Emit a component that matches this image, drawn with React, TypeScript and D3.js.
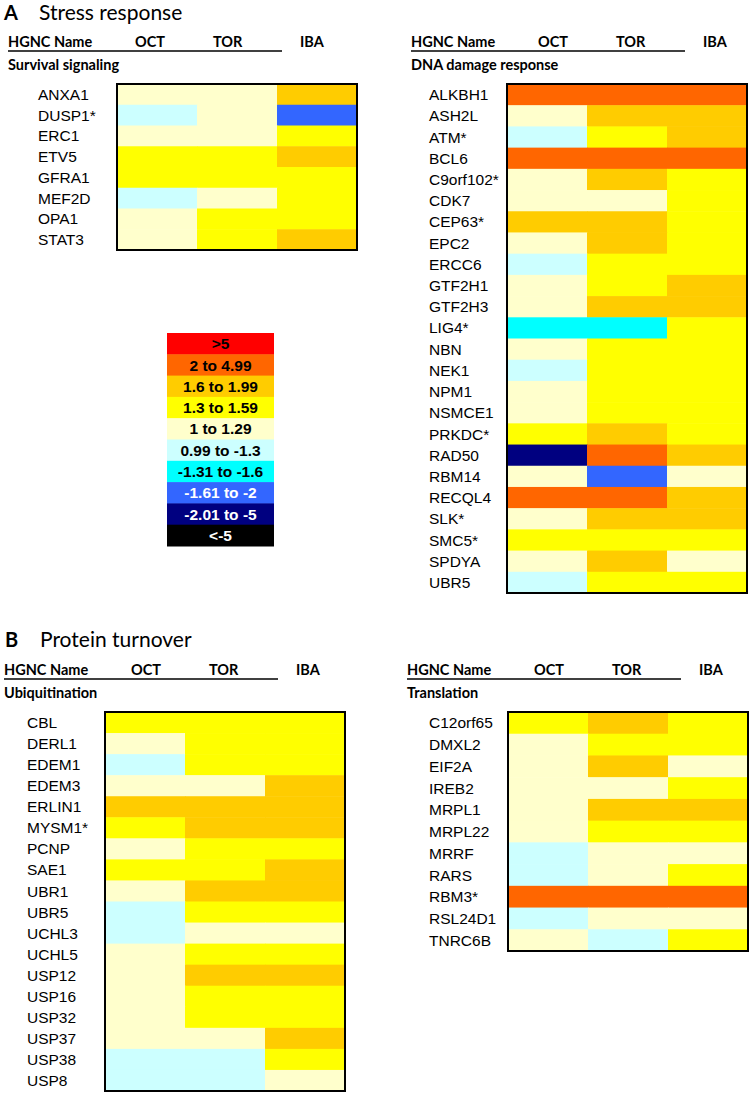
import React from "react";
import * as d3 from "d3";

// ---- data ----
const conditions = ["OCT", "TOR", "IBA"];

// fold-change category thresholds and legend
const legendLabels = [">5", "2 to 4.99", "1.6 to 1.99", "1.3 to 1.59", "1 to 1.29", "0.99 to -1.3", "-1.31 to -1.6", "-1.61 to -2", "-2.01 to -5", "<-5"];
const legendColors = ["#FF0000", "#FF6600", "#FFCC00", "#FFFF00", "#FFFFCC", "#CCFFFF", "#00FFFF", "#3366FF", "#000080", "#000000"];
const legendTextColors = ["#000", "#000", "#000", "#000", "#000", "#000", "#000", "#fff", "#fff", "#fff"];
const thresholds = [-5, -2, -1.6, -1.3, 1, 1.3, 1.6, 2, 5];

// Survival signaling
const survivalGenes = ["ANXA1", "DUSP1*", "ERC1", "ETV5", "GFRA1", "MEF2D", "OPA1", "STAT3"];
const survivalValues = [
  [1.15, 1.15, 1.8],
  [0.5, 1.15, -1.8],
  [1.15, 1.15, 1.45],
  [1.45, 1.45, 1.8],
  [1.45, 1.45, 1.45],
  [0.5, 1.15, 1.45],
  [1.15, 1.45, 1.45],
  [1.15, 1.45, 1.8],
];

// DNA damage response
const dnaGenes = ["ALKBH1", "ASH2L", "ATM*", "BCL6", "C9orf102*", "CDK7", "CEP63*", "EPC2", "ERCC6", "GTF2H1", "GTF2H3", "LIG4*", "NBN", "NEK1", "NPM1", "NSMCE1", "PRKDC*", "RAD50", "RBM14", "RECQL4", "SLK*", "SMC5*", "SPDYA", "UBR5"];
const dnaValues = [
  [3, 3, 3],
  [1.15, 1.8, 1.8],
  [0.5, 1.45, 1.8],
  [3, 3, 3],
  [1.15, 1.8, 1.45],
  [1.15, 1.15, 1.45],
  [1.8, 1.8, 1.45],
  [1.15, 1.8, 1.45],
  [0.5, 1.45, 1.45],
  [1.15, 1.45, 1.8],
  [1.15, 1.8, 1.8],
  [-1.45, -1.45, 1.45],
  [1.15, 1.45, 1.45],
  [0.5, 1.45, 1.45],
  [1.15, 1.45, 1.45],
  [1.15, 1.45, 1.45],
  [1.45, 1.8, 1.45],
  [-3, 3, 1.8],
  [1.15, -1.8, 1.15],
  [3, 3, 1.8],
  [1.15, 1.8, 1.8],
  [1.45, 1.45, 1.45],
  [1.15, 1.8, 1.15],
  [0.5, 1.45, 1.45],
];

// Ubiquitination
const ubiGenes = ["CBL", "DERL1", "EDEM1", "EDEM3", "ERLIN1", "MYSM1*", "PCNP", "SAE1", "UBR1", "UBR5", "UCHL3", "UCHL5", "USP12", "USP16", "USP32", "USP37", "USP38", "USP8"];
const ubiValues = [
  [1.45, 1.45, 1.45],
  [1.15, 1.45, 1.45],
  [0.5, 1.45, 1.45],
  [1.15, 1.15, 1.8],
  [1.8, 1.8, 1.8],
  [1.45, 1.8, 1.8],
  [1.15, 1.45, 1.45],
  [1.45, 1.45, 1.8],
  [1.15, 1.8, 1.8],
  [0.5, 1.45, 1.45],
  [0.5, 1.15, 1.15],
  [1.15, 1.45, 1.45],
  [1.15, 1.8, 1.8],
  [1.15, 1.45, 1.45],
  [1.15, 1.45, 1.45],
  [1.15, 1.15, 1.8],
  [0.5, 0.5, 1.45],
  [0.5, 0.5, 1.15],
];

// Translation
const transGenes = ["C12orf65", "DMXL2", "EIF2A", "IREB2", "MRPL1", "MRPL22", "MRRF", "RARS", "RBM3*", "RSL24D1", "TNRC6B"];
const transValues = [
  [1.45, 1.8, 1.45],
  [1.15, 1.45, 1.45],
  [1.15, 1.8, 1.15],
  [1.15, 1.15, 1.45],
  [1.15, 1.8, 1.8],
  [1.15, 1.45, 1.45],
  [0.5, 1.15, 1.15],
  [0.5, 1.15, 1.45],
  [3, 3, 3],
  [0.5, 1.15, 1.15],
  [1.15, 0.5, 1.45],
];

// ---- drawing ----
const color = d3.scaleThreshold<number, string>().domain(thresholds).range([...legendColors].reverse());

const HEAD_FONT = "Lato, 'Open Sans', sans-serif";
const LABEL_FONT = "'Liberation Sans', Arial, sans-serif";

type PanelProps = {
  headX: number;
  labelX: number;
  boxLeft: number;
  boxRight: number;
  boxTop: number;
  boxBottom: number;
  subtitle: string;
  genes: string[];
  values: number[][];
};

function Panel({ headX, labelX, boxLeft, boxRight, boxTop, boxBottom, subtitle, genes, values }: PanelProps) {
  const x = d3.scaleBand<string>().domain(conditions).range([boxLeft, boxRight]);
  const y = d3.scaleBand<string>().domain(genes).range([boxTop, boxBottom]);
  const headY = boxTop - 37;
  const headOffsets = [127, 205, 292];
  return (
    <g>
      <text x={headX} y={headY} fontFamily={HEAD_FONT} fontWeight="bold" fontSize={14.5} fill="#000">HGNC Name</text>
      {conditions.map((c, i) => (
        <text key={c} x={headX + headOffsets[i]} y={headY} fontFamily={HEAD_FONT} fontWeight="bold" fontSize={14.5} fill="#000">{c}</text>
      ))}
      <line x1={headX} x2={headX + 274} y1={headY + 4} y2={headY + 4} stroke="#000" strokeWidth={1.3} />
      <text x={headX} y={boxTop - 14} fontFamily={HEAD_FONT} fontWeight="bold" fontSize={14.5} fill="#000">{subtitle}</text>
      {genes.map((g, r) => (
        <g key={g}>
          {conditions.map((c, ci) => (
            <rect key={c} x={x(c)} y={y(g)} width={x.bandwidth() + 0.5} height={y.bandwidth() + 0.5} fill={color(values[r][ci])} />
          ))}
          <text x={labelX} y={(y(g) as number) + y.bandwidth() / 2} dy="0.36em" fontFamily={LABEL_FONT} fontSize={15.5} fill="#000">{g}</text>
        </g>
      ))}
      <rect x={boxLeft} y={boxTop} width={boxRight - boxLeft} height={boxBottom - boxTop} fill="none" stroke="#000" strokeWidth={2} />
    </g>
  );
}

function Legend({ left, right, top, bottom }: { left: number; right: number; top: number; bottom: number }) {
  const y = d3.scaleBand<string>().domain(legendLabels).range([top, bottom]);
  return (
    <g>
      {legendLabels.map((l, i) => (
        <g key={l}>
          <rect x={left} y={y(l)} width={right - left} height={y.bandwidth() + 0.5} fill={legendColors[i]} />
          <text x={(left + right) / 2} y={(y(l) as number) + y.bandwidth() / 2} dy="0.36em" textAnchor="middle" fontFamily={LABEL_FONT} fontWeight="bold" fontSize={15.5} fill={legendTextColors[i]}>{l}</text>
        </g>
      ))}
    </g>
  );
}

export default function App() {
  return (
    <svg width={753} height={1097} style={{ position: "absolute", left: 0, top: 0, background: "#fff" }}>
      <rect x={0} y={0} width={753} height={1097} fill="#fff" />
      <text x={4} y={20} fontFamily={HEAD_FONT} fontWeight="bold" fontSize={20} fill="#000">A</text>
      <text x={39} y={20} fontFamily={HEAD_FONT} fontSize={21} fill="#000">Stress response</text>
      <text x={5} y={647} fontFamily={HEAD_FONT} fontWeight="bold" fontSize={20} fill="#000">B</text>
      <text x={40} y={647} fontFamily={HEAD_FONT} fontSize={21} fill="#000">Protein turnover</text>

      <Panel headX={8} labelX={38} boxLeft={117} boxRight={357} boxTop={84} boxBottom={250} subtitle="Survival signaling" genes={survivalGenes} values={survivalValues} />
      <Panel headX={411} labelX={429} boxLeft={507} boxRight={747} boxTop={84} boxBottom={593} subtitle="DNA damage response" genes={dnaGenes} values={dnaValues} />
      <Panel headX={4} labelX={27} boxLeft={105} boxRight={345} boxTop={712} boxBottom={1091} subtitle="Ubiquitination" genes={ubiGenes} values={ubiValues} />
      <Panel headX={407} labelX={429} boxLeft={508} boxRight={748} boxTop={712} boxBottom={951} subtitle="Translation" genes={transGenes} values={transValues} />

      <Legend left={167} right={274} top={333} bottom={546} />
    </svg>
  );
}
